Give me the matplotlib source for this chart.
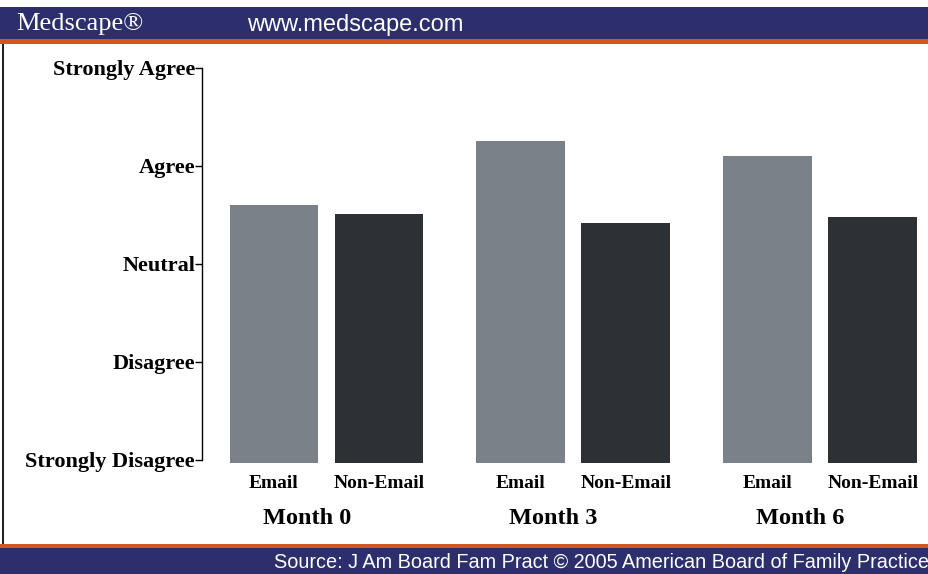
import numpy as np
import matplotlib
matplotlib.use("Agg")
import matplotlib.pyplot as plt
from matplotlib.patches import Rectangle

# data (1 = Strongly Disagree ... 5 = Strongly Agree)
months = ["Month 0", "Month 3", "Month 6"]
groups = ["Email", "Non-Email"]
email_scores = [3.60, 4.26, 4.10]
non_email_scores = [3.51, 3.42, 3.48]
scale_labels = ["Strongly Disagree", "Disagree", "Neutral", "Agree", "Strongly Agree"]
scale_values = [1, 2, 3, 4, 5]

W, H = 929, 574
navy = "#2c2f6c"
orange = "#d2561e"
email_col = "#7b8189"
non_col = "#2d3135"

fig = plt.figure(figsize=(W / 100, H / 100), dpi=100)
fig.patch.set_facecolor("white")

def px(x0, y0, w, h):
    # rectangle from pixel coords (top-left origin) to figure fraction
    return (x0 / W, 1 - (y0 + h) / H, w / W, h / H)

# header / footer bars
for (x0, y0, w, h, c) in [(0, 7, W, 33, navy), (0, 39, W, 5, orange),
                          (0, 544, W, 4, orange), (0, 548, W, 26, navy)]:
    x, y, ww, hh = px(x0, y0, w, h)
    fig.patches.append(Rectangle((x, y), ww, hh, transform=fig.transFigure,
                                 facecolor=c, edgecolor="none", zorder=0))
# left frame line
x, y, ww, hh = px(2, 44, 2, 500)
fig.patches.append(Rectangle((x, y), ww, hh, transform=fig.transFigure,
                             facecolor="#222222", edgecolor="none"))

fig.text(16 / W, 1 - 24 / H, "Medscape\u00ae", color="white", fontsize=19,
         family="Liberation Serif", va="center", ha="left")
fig.text(247 / W, 1 - 25 / H, "www.medscape.com", color="white", fontsize=17,
         family="Liberation Sans", va="center", ha="left")
fig.text(929 / W, 1 - 562 / H,
         "Source: J Am Board Fam Pract \u00a9 2005 American Board of Family Practice",
         color="white", fontsize=14.3, family="Liberation Sans", va="center", ha="right")

# main axes
ax = fig.add_axes([202 / W, (H - 460) / H, (W - 202) / W, 392 / H])
ax.set_facecolor("none")
x = np.arange(len(months))
off = 0.2126
bw = 0.36
base = 0.97
ax.bar(x - off, np.array(email_scores) - base, bw, bottom=base, color=email_col,
       clip_on=False)
ax.bar(x + off, np.array(non_email_scores) - base, bw, bottom=base, color=non_col,
       clip_on=False)

ax.set_ylim(1, 5)
ax.set_xlim(-0.504, 2.44)
ax.set_yticks(scale_values)
ax.set_yticklabels(scale_labels, family="Liberation Serif", fontweight="bold",
                   fontsize=16)
ax.tick_params(axis="y", length=5, width=1, pad=0)
ax.set_xticks([])
for s in ["top", "right", "bottom"]:
    ax.spines[s].set_visible(False)
ax.spines["left"].set_linewidth(1)

for i in range(len(months)):
    for j, g in enumerate(groups):
        xc = x[i] + (-off if j == 0 else off)
        ax.text(xc, -0.059, g, transform=ax.get_xaxis_transform(), ha="center",
                va="center", family="Liberation Serif", fontweight="bold",
                fontsize=14, clip_on=False)
    ax.text(x[i] - 0.08, -0.148, months[i], transform=ax.get_xaxis_transform(),
            ha="center", va="center", family="Liberation Serif",
            fontweight="bold", fontsize=17.5, clip_on=False)

fig.savefig("out.png", dpi=100)
